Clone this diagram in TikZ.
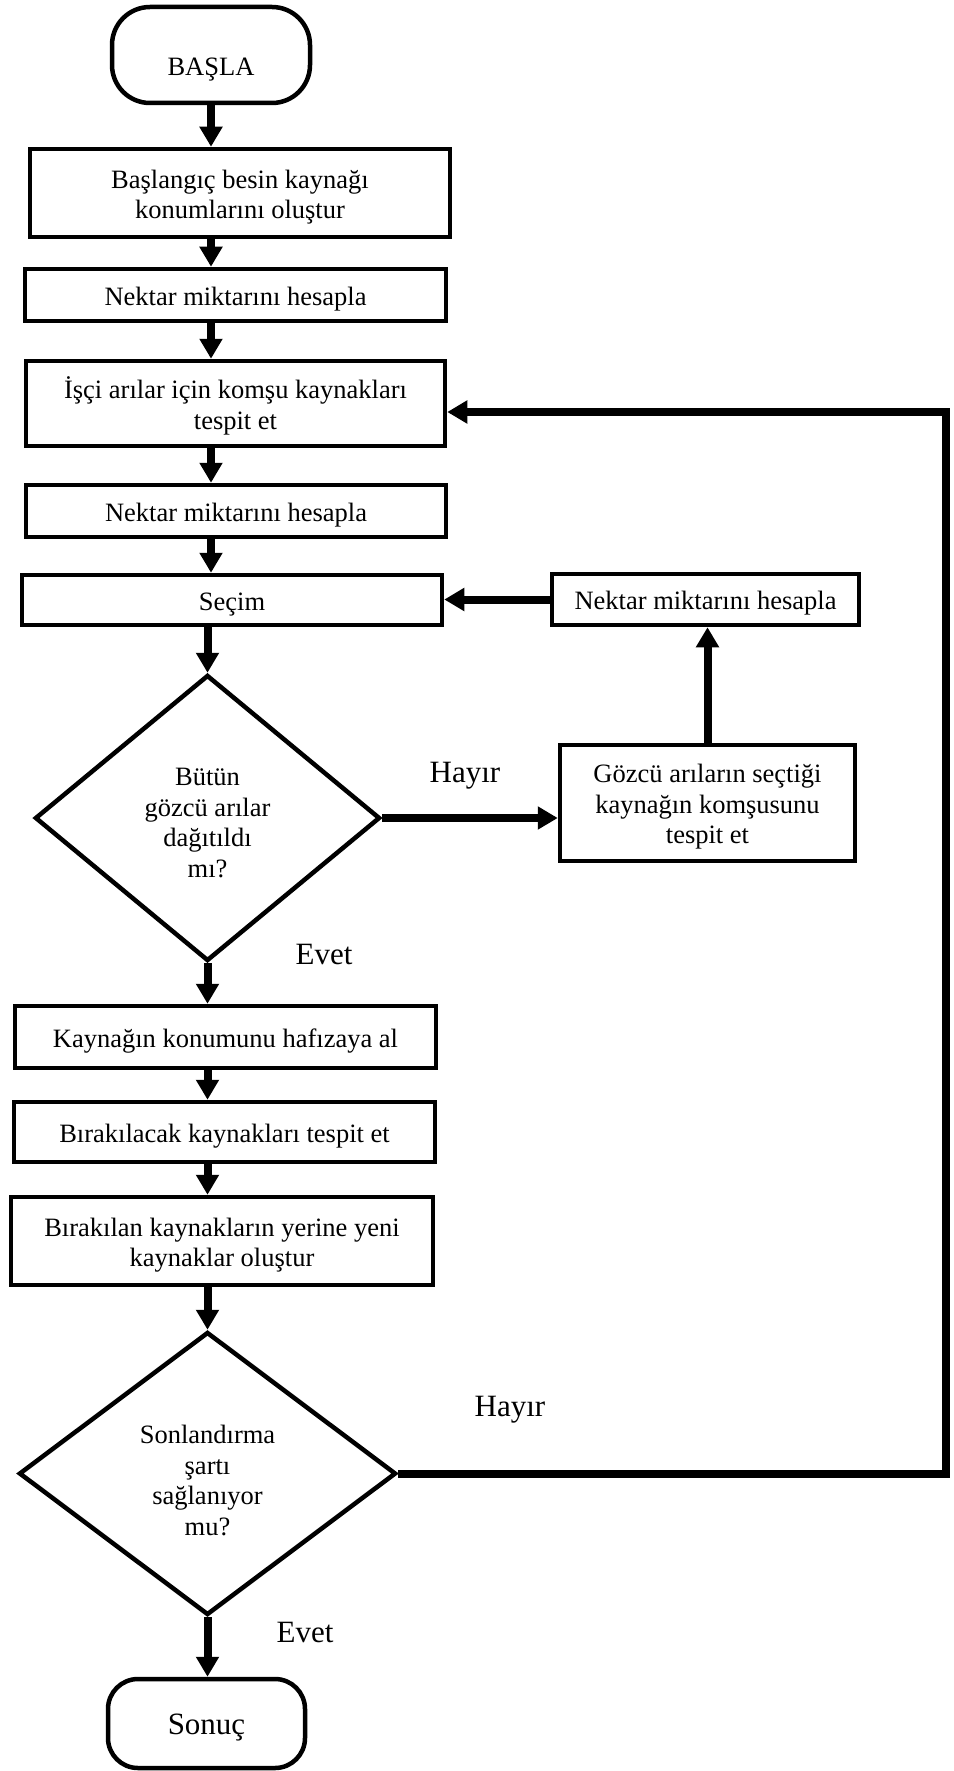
\documentclass[tikz,border=0pt]{standalone}
\usepackage{fontspec}
\setmainfont{Liberation Serif}
\usetikzlibrary{shapes.geometric, arrows.meta}
% invisible rule that pushes the first text line down inside its shape
\newcommand\liftstrut[1][26.5pt]{\rule{0pt}{#1}}

\begin{document}
\begin{tikzpicture}[x=1pt, y=-1pt,
  every node/.style={font=\fontsize{26.5}{30.5}\selectfont, inner sep=0pt},
  textdrop/.style={execute at begin node={\liftstrut[#1]}},
  textdrop/.default=26.5pt,
  procbox/.style={draw, line width=4.5pt, align=center},
  termbox/.style={draw, line width=4.5pt, rounded corners=38pt},
  decision/.style={draw, diamond, line width=4.5pt, align=center},
  flowarrow/.style={line width=8pt, -{Triangle[length=20pt, width=22pt]}},
  answer/.style={font=\fontsize{31}{36}\selectfont}
]
\useasboundingbox (0,0) rectangle (953,1771);
\fill[white] (0,0) rectangle (953,1771);

% start terminal
\node[termbox, minimum width=198, minimum height=96] (start) at (211,55) {};
\node (starttext) at (211,69.5) {BAŞLA};

% main column of process steps
\node[procbox, minimum width=420, minimum height=88] (init) at (240,193)
  {\liftstrut Başlangıç besin kaynağı\\konumlarını oluştur};
\node[procbox, textdrop, minimum width=421, minimum height=52] (nectarA) at (235.5,295)
  {Nektar miktarını hesapla};
\node[procbox, minimum width=419, minimum height=85] (employed) at (235.5,403.5)
  {\liftstrut[27pt]İşçi arılar için komşu kaynakları\\tespit et};
\node[procbox, textdrop, minimum width=420, minimum height=52] (nectarB) at (236,511)
  {Nektar miktarını hesapla};
\node[procbox, textdrop, minimum width=420, minimum height=50] (select) at (232,600)
  {Seçim};

% onlooker decision
\node[decision, minimum width=345, minimum height=286] (onlook) at (207.5,818)
  {\liftstrut[27.5pt]Bütün\\gözcü arılar\\dağıtıldı\\mı?};

% onlooker branch on the right
\node[procbox, minimum width=295, minimum height=116] (neighbour) at (707.5,803)
  {\liftstrut[26pt]Gözcü arıların seçtiği\\kaynağın komşusunu\\tespit et};
\node[procbox, textdrop, minimum width=307, minimum height=51] (nectarC) at (705.5,599.5)
  {Nektar miktarını hesapla};

% memorise and scout phase
\node[procbox, textdrop, minimum width=421, minimum height=62] (memory) at (225.5,1037)
  {Kaynağın konumunu hafızaya al};
\node[procbox, textdrop, minimum width=421, minimum height=60] (abandon) at (224.5,1132)
  {Bırakılacak kaynakları tespit et};
\node[procbox, minimum width=422, minimum height=88] (scout) at (222,1241)
  {\liftstrut Bırakılan kaynakların yerine yeni\\kaynaklar oluştur};

% termination decision
\node[decision, minimum width=377, minimum height=283] (stop) at (207.5,1473.5)
  {\liftstrut[32pt]Sonlandırma\\şartı\\sağlanıyor\\mu?};

% end terminal
\node[termbox, rounded corners=30pt, minimum width=197, minimum height=89,
  font=\fontsize{31}{36}\selectfont, textdrop=29pt] (finish) at (206.5,1723.5) {Sonuç};

% branch labels
\node[answer] (noA) at (465,776) {Hayır};
\node[answer] (yesA) at (324,954) {Evet};
\node[answer] (noB) at (510,1410) {Hayır};
\node[answer] (yesB) at (305,1632) {Evet};

% connectors of the main column
\draw[flowarrow] (start.south) -- (start.south |- init.north);
\draw[flowarrow] (init.south -| start.south) -- (nectarA.north -| start.south);
\draw[flowarrow] (nectarA.south -| start.south) -- (employed.north -| start.south);
\draw[flowarrow] (employed.south -| start.south) -- (nectarB.north -| start.south);
\draw[flowarrow] (nectarB.south -| start.south) -- (select.north -| start.south);
\draw[flowarrow] (select.south -| onlook.north) -- (onlook.north);
\draw[flowarrow] (onlook.south) -- (onlook.south |- memory.north);
\draw[flowarrow] (memory.south -| onlook.south) -- (abandon.north -| onlook.south);
\draw[flowarrow] (abandon.south -| onlook.south) -- (scout.north -| onlook.south);
\draw[flowarrow] (scout.south -| stop.north) -- (stop.north);
\draw[flowarrow] (stop.south) -- (stop.south |- finish.north);

% onlooker loop
\draw[flowarrow] (onlook.east) -- (onlook.east -| neighbour.west);
\draw[flowarrow] (neighbour.north) -- (neighbour.north |- nectarC.south);
\draw[flowarrow] (nectarC.west) -- (nectarC.west -| select.east);

% return loop to the employed bee phase
\coordinate (loopcorner) at (946,412);
\draw[flowarrow] (stop.east) -| (loopcorner) -- (loopcorner -| employed.east);

\end{tikzpicture}
\end{document}
